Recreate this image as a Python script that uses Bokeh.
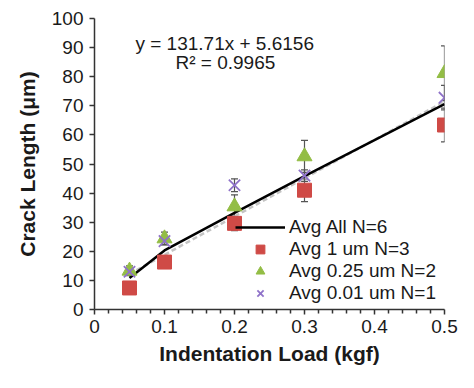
from bokeh.plotting import figure
from bokeh.models import (ColumnDataSource, FixedTicker, Whisker, TeeHead,
                          Legend, LegendItem)
from bokeh.core.properties import value
from bokeh.embed import file_html
from bokeh.resources import INLINE

# ---- data ----
loads = [0.05, 0.1, 0.2, 0.3, 0.5]
avg_all = [10.8, 20.3, 33.2, 45.8, 70.6]
avg_1um = [7.4, 16.3, 29.6, 41.0, 63.4]
err_1um = [1.0, 1.2, 2.5, 3.9, 5.8]
avg_025um = [13.3, 24.4, 35.4, 52.6, 81.2]
err_025um = [1.7, 2.2, 4.0, 5.5, 9.4]
avg_001um = [13.0, 23.5, 42.7, 46.0, 72.8]
err_001um = [1.2, 1.2, 2.2, 2.0, 4.2]
trend_x = [0.05, 0.5]
trend_y = [12.2, 71.5]
eq_text = ["y = 131.71x + 5.6156", "R² = 0.9965"]
x_ticks = [0, 0.1, 0.2, 0.3, 0.4, 0.5]
x_tick_labels = ["0", "0.1", "0.2", "0.3", "0.4", "0.5"]
x_minor = [0.02, 0.04, 0.06, 0.08, 0.12, 0.14, 0.16, 0.18, 0.22, 0.24, 0.26,
           0.28, 0.32, 0.34, 0.36, 0.38, 0.42, 0.44, 0.46, 0.48]
y_ticks = list(range(0, 101, 10))
legend_labels = ["Avg All N=6", "Avg 1 um N=3", "Avg 0.25 um N=2", "Avg 0.01 um N=1"]

FONT = "Liberation Sans"
TXT = "#1a1a1a"
RED = "#cf4a46"
GREEN = "#93bd45"
PURPLE = "#8f72c9"

p = figure(width=458, height=372, x_range=(0, 0.5), y_range=(0, 100),
           output_backend="svg", toolbar_location=None,
           min_border_left=94, min_border_right=14, min_border_top=18,
           min_border_bottom=63)
p.outline_line_color = None
p.xgrid.visible = False
p.ygrid.visible = False
p.background_fill_color = "white"

# axes
p.xaxis.ticker = FixedTicker(ticks=x_ticks, minor_ticks=x_minor)
p.xaxis.major_label_overrides = {t: l for t, l in zip(x_ticks, x_tick_labels)}
p.yaxis.ticker = FixedTicker(ticks=y_ticks)
for ax in (p.xaxis[0], p.yaxis[0]):
    ax.axis_line_color = "#333333"
    ax.axis_line_width = 1.5
    ax.major_tick_line_color = "#333333"
    ax.major_tick_line_width = 1.5
    ax.minor_tick_line_color = "#333333"
    ax.minor_tick_line_width = 1.5
    ax.major_tick_in = 0
    ax.major_tick_out = 5
    ax.minor_tick_in = 0
    ax.minor_tick_out = 4
    ax.major_label_text_font = FONT
    ax.major_label_text_font_size = "19px"
    ax.major_label_text_color = TXT
    ax.axis_label_text_font = FONT
    ax.axis_label_text_font_size = "21px"
    ax.axis_label_text_font_style = "bold"
    ax.axis_label_text_color = TXT
p.yaxis.minor_tick_out = 0
p.xaxis.major_label_standoff = 5
p.yaxis.major_label_standoff = 6
p.xaxis.axis_label_standoff = 6
p.yaxis.axis_label_standoff = 10
p.xaxis.axis_label = "Indentation Load (kgf)"
p.yaxis.axis_label = "Crack Length (μm)"

# trend line (under) and average line
p.line(trend_x, trend_y, line_color="#c4c4c4", line_width=2.5, line_dash="5 3")
r_all = p.line(loads, avg_all, line_color="black", line_width=2.5)

# error bars
def add_err(vals, errs):
    src = ColumnDataSource(dict(x=loads,
                                upper=[v + e for v, e in zip(vals, errs)],
                                lower=[v - e for v, e in zip(vals, errs)]))
    w = Whisker(base="x", upper="upper", lower="lower", source=src,
                line_color="#555555", line_width=1.2,
                upper_head=TeeHead(size=7, line_color="#555555", line_width=1.2),
                lower_head=TeeHead(size=7, line_color="#555555", line_width=1.2))
    p.add_layout(w)

add_err(avg_1um, err_1um)
add_err(avg_025um, err_025um)
add_err(avg_001um, err_001um)

r_sq = p.scatter(loads, avg_1um, marker="square", size=14,
                 fill_color=RED, line_color=RED)
r_tri = p.scatter(loads, avg_025um, marker="triangle", size=15,
                  fill_color=GREEN, line_color=GREEN)
r_x = p.scatter(loads, avg_001um, marker="x", size=16,
                line_color=PURPLE, line_width=1.8)

# equation text
p.text(x=[0.186, 0.187], y=[91.5, 84.8], text=eq_text,
       text_font=value(FONT), text_font_size="19px", text_color=TXT,
       text_align="center", text_baseline="middle")

legend = Legend(items=[
    LegendItem(label=legend_labels[0], renderers=[r_all]),
    LegendItem(label=legend_labels[1], renderers=[r_sq]),
    LegendItem(label=legend_labels[2], renderers=[r_tri]),
    LegendItem(label=legend_labels[3], renderers=[r_x]),
], location=(141, 5), orientation="vertical",
    glyph_width=50, glyph_height=22, spacing=0, padding=0, margin=0,
    label_height=22, label_standoff=4, label_text_font=FONT,
    label_text_font_size="19px", label_text_color=TXT,
    background_fill_alpha=0, border_line_color=None)
p.add_layout(legend)

open("out.html", "w").write(file_html(p, INLINE))
